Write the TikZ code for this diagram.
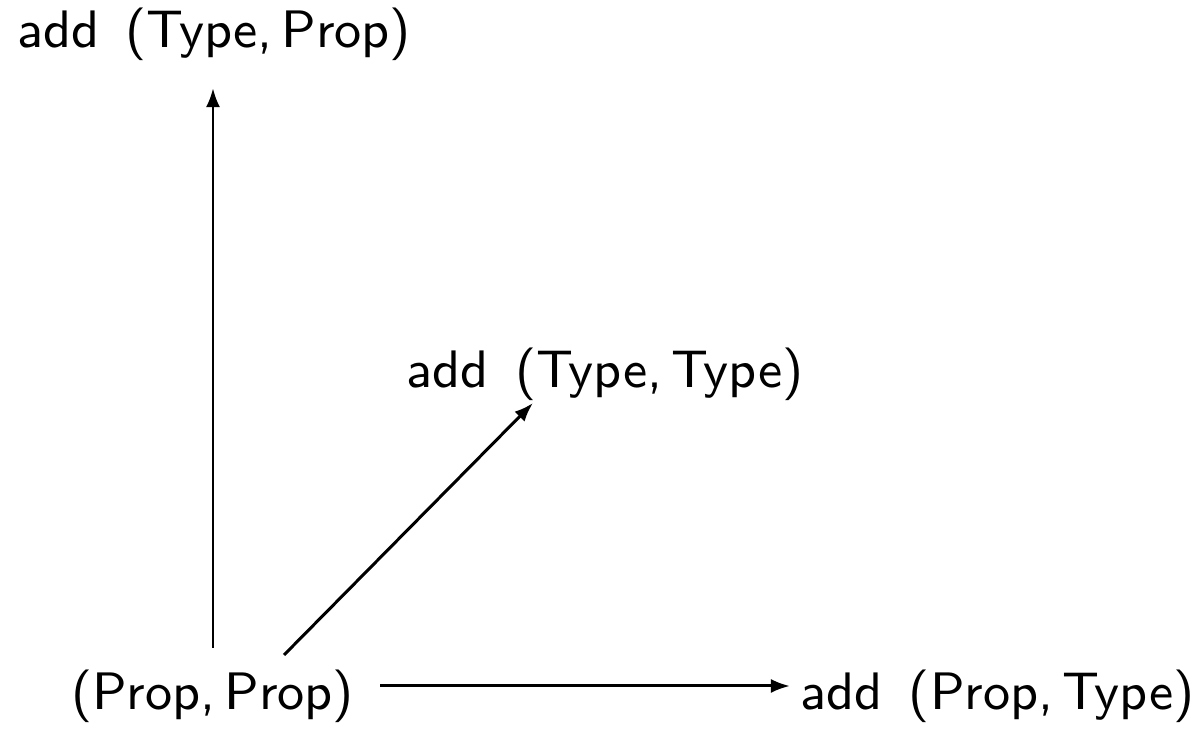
\documentclass[tikz,border=0pt]{standalone}
\usepackage{graphicx}
\usetikzlibrary{arrows.meta,calc}
% objects are set in the 9pt design of Latin Modern Sans, enlarged
\newcommand{\obtext}[1]{\scalebox{1.6667}{\sffamily\fontsize{9}{11}\selectfont #1}}
\newcommand{\ad}{add\hspace{0.5em}}
\begin{document}
\begin{tikzpicture}[x=0.01cm,y=-0.01cm,
  obj/.style={inner sep=0pt,anchor=base},
  arr/.style={line width=0.85pt,-{Latex[length=1.9mm,width=1.4mm]}}]
\useasboundingbox (0,0) rectangle (1202,731);
\node[obj] (tp) at (214,48)  {\obtext{\ad(Type,\,Prop)}};
\node[obj] (tt) at (605,388) {\obtext{\ad(Type,\,Type)}};
\node[obj] (pp) at (212.5,710) {\obtext{(Prop,\,Prop)}};
\node[obj] (pt) at (997.5,710) {\obtext{\ad(Prop,\,Type)}};
% vertical arrow
\draw[arr] ($(pp.base)+(0.5,-62)$) -- ($(tp.base)+(-1,40)$);
% diagonal arrow
\draw[arr] ($(pp.base)+(71.5,-55)$) -- ($(tt.base)+(-72,15)$);
% horizontal arrow
\draw[arr] ($(pp.base)+(167.5,-24)$) -- ($(pt.base)+(-207.5,-24)$);
\end{tikzpicture}
\end{document}
